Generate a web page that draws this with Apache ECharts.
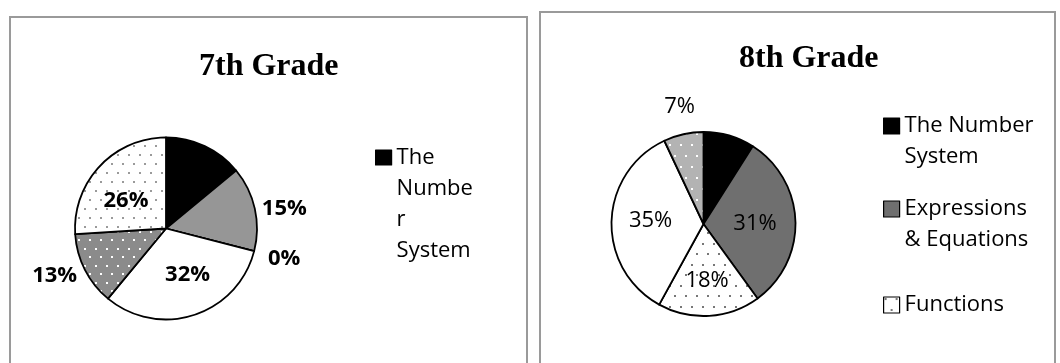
<!DOCTYPE html>
<html>
<head>
<meta charset="utf-8">
<script src="https://cdn.jsdelivr.net/npm/echarts@6/dist/echarts.min.js"></script>
<style>
  html, body { margin: 0; padding: 0; background: #fff; }
  #wrap { position: relative; width: 1060px; height: 363px; overflow: hidden; }
  #c7, #c8 { position: absolute; top: 0; width: 530px; height: 363px; }
  #c7 { left: 0; }
  #c8 { left: 530px; }
</style>
</head>
<body>
<div id="wrap"><div id="c7"></div><div id="c8"></div></div>
<script>
// Share of items per domain, 7th grade (percent)
const domains7 = ['The Number System', 'Ratios & Proportional Relationships', 'Functions',
                  'Expressions & Equations', 'Geometry', 'Statistics & Probability'];
const values7 = [14, 15, 0, 32, 13, 26];

// Share of items per domain, 8th grade (percent)
const domains8 = ['The Number System', 'Expressions & Equations', 'Functions',
                  'Geometry', 'Statistics & Probability'];
const values8 = [9, 31, 18, 35, 7];

// Legend entries and their wrapped captions
const legend7 = ['The Number System'];
const legendText7 = ['The\nNumbe\nr\nSystem'];
const legend8 = ['The Number System', 'Expressions & Equations', 'Functions'];
const legendText8 = ['The Number\nSystem', 'Expressions\n& Equations', 'Functions'];

// Dotted fill tiles (staggered dots)
function dots(bg, dot, w, h, size) {
  const c = document.createElement('canvas');
  c.width = w; c.height = h;
  const g = c.getContext('2d');
  g.fillStyle = bg; g.fillRect(0, 0, w, h);
  g.fillStyle = dot;
  g.fillRect(1, 1, size, size);
  g.fillRect(1 + Math.round(w / 2), 1 + Math.round(h / 2), size, size);
  return { image: c, repeat: 'repeat' };
}

const fills7 = ['#000000', '#969696', '#ffffff', '#ffffff',
                dots('#8b8b8b', '#ffffff', 11, 17, 2),
                dots('#ffffff', '#9a9a9a', 11, 18, 2)];
const fills8 = ['#000000', '#6f6f6f',
                dots('#ffffff', '#777777', 11, 21, 2),
                '#ffffff',
                dots('#b3b3b3', '#ffffff', 11, 22, 2)];

// Label radius (px from centre) and small angular nudge (deg) per slice
const labelDist7 = [0, 120, 122, 51, 121, 49];
const labelTurn7 = [0, 3, 0, -7, 4, -8];
const labelDist8 = [0, 51.5, 56.6, 53, 119.3];
const labelTurn8 = [0, 2, 0, 2, 1];

const SANS = 'Open Sans';

function placeLabels(values, center, dist, turn) {
  const total = values.reduce((a, b) => a + b, 0);
  return function (p) {
    const i = p.dataIndex;
    let start = 0;
    for (let k = 0; k < i; k++) start += values[k];
    const deg = (start + values[i] / 2) / total * 360 + turn[i];
    const a = deg * Math.PI / 180;
    return {
      x: center[0] + dist[i] * Math.sin(a),
      y: center[1] - dist[i] * Math.cos(a),
      align: 'center',
      verticalAlign: 'middle'
    };
  };
}

function panel(x, y, w) {
  return {
    type: 'rect', silent: true, z: -10,
    shape: { x: x, y: y, width: w, height: 420 },
    style: { fill: 'none', stroke: '#9a9a9a', lineWidth: 2 }
  };
}

// Legend text is centred on its marker; blank lines above the caption
// keep the marker level with the caption's first line.
function legendBlock(name, caption, top, left, iconH) {
  const lines = caption.split('\n').length;
  const lead = new Array(lines - 1).fill(' ').join('\n');
  const text = lines > 1 ? lead + '\n' + caption : caption;
  return {
    orient: 'vertical', left: left, top: top, padding: 0,
    itemWidth: 16, itemHeight: iconH, selectedMode: false,
    icon: 'rect',
    itemStyle: { borderColor: '#000', borderWidth: 1.2 },
    data: [name],
    formatter: () => text,
    textStyle: { fontFamily: SANS, fontSize: 22, lineHeight: 31, color: '#000' }
  };
}

const center7 = [166, 228.5];
const chart7 = echarts.init(document.getElementById('c7'), null, { renderer: 'canvas' });
chart7.setOption({
  animation: false,
  graphic: [panel(10, 17, 517)],
  title: {
    text: '7th Grade', left: 199, top: 51, padding: 0,
    textStyle: { fontFamily: 'Liberation Serif', fontWeight: 'bold', fontSize: 32, color: '#000' }
  },
  legend: [legendBlock(legend7[0], legendText7[0], 49, 375, 15)],
  series: [{
    type: 'pie', center: center7, radius: 91, startAngle: 90,
    silent: true, avoidLabelOverlap: false,
    emphasis: { disabled: true },
    itemStyle: { borderColor: '#000', borderWidth: 1.8 },
    label: {
      position: 'inside', formatter: '{c}%',
      fontFamily: SANS, fontWeight: 'bold', fontSize: 22, color: '#000'
    },
    labelLine: { show: false },
    labelLayout: placeLabels(values7, center7, labelDist7, labelTurn7),
    data: domains7.map((n, i) => ({
      name: n, value: values7[i],
      itemStyle: { color: fills7[i] },
      label: { show: i > 0 }
    }))
  }]
});

const center8 = [173.5, 224];
const chart8 = echarts.init(document.getElementById('c8'), null, { renderer: 'canvas' });
chart8.setOption({
  animation: false,
  graphic: [panel(10, 12, 515)],
  title: {
    text: '8th Grade', left: 209, top: 43, padding: 0,
    textStyle: { fontFamily: 'Liberation Serif', fontWeight: 'bold', fontSize: 32, color: '#000' }
  },
  legend: [
    legendBlock(legend8[0], legendText8[0], 79.5, 353, 16),
    legendBlock(legend8[1], legendText8[1], 162.5, 353, 16),
    legendBlock(legend8[2], legendText8[2], 289.5, 353, 16)
  ],
  series: [{
    type: 'pie', center: center8, radius: 92, startAngle: 90,
    silent: true, avoidLabelOverlap: false,
    emphasis: { disabled: true },
    itemStyle: { borderColor: '#000', borderWidth: 1.8 },
    label: {
      position: 'inside', formatter: '{c}%',
      fontFamily: SANS, fontSize: 22, color: '#000'
    },
    labelLine: { show: false },
    labelLayout: placeLabels(values8, center8, labelDist8, labelTurn8),
    data: domains8.map((n, i) => ({
      name: n, value: values8[i],
      itemStyle: { color: fills8[i] },
      label: { show: i > 0 }
    }))
  }]
});
</script>
</body>
</html>
